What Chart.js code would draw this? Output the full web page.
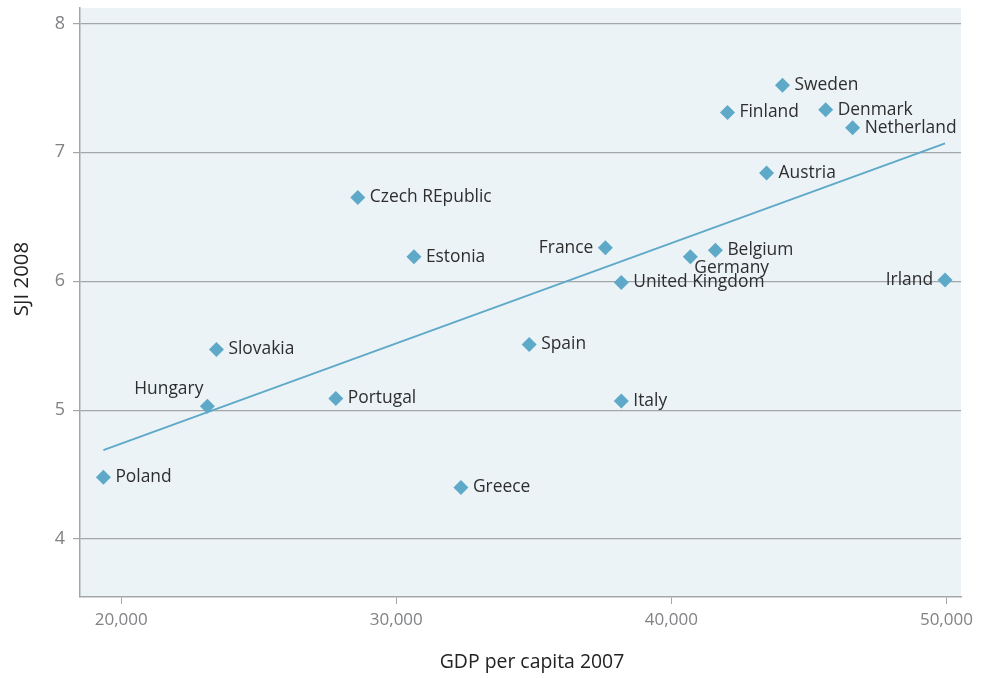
<!DOCTYPE html>
<html>
<head>
<meta charset="utf-8">
<script src="https://cdn.jsdelivr.net/npm/chart.js@4.4.1/dist/chart.umd.min.js"></script>
<style>
  html, body { margin: 0; padding: 0; background: #fff; }
  #wrap { width: 987px; height: 678px; }
</style>
</head>
<body>
<div id="wrap"><canvas id="myChart" width="987" height="678"></canvas></div>
<script>
// countries with GDP per capita 2007 and SJI 2008
const countries = ['Poland', 'Hungary', 'Slovakia', 'Portugal', 'Czech REpublic', 'Estonia', 'Greece',
    'Spain', 'France', 'United Kingdom', 'Italy', 'Germany', 'Belgium', 'Finland', 'Austria',
    'Sweden', 'Denmark', 'Netherland', 'Irland'];
const gdp = [19350, 23130, 23460, 27800, 28600, 30640, 32350,
    34830, 37600, 38180, 38180, 40690, 41600, 42040, 43460,
    44040, 45610, 46590, 49950];
const sji = [4.48, 5.03, 5.47, 5.09, 6.65, 6.19, 4.40,
    5.51, 6.26, 5.99, 5.07, 6.19, 6.24, 7.31, 6.84,
    7.52, 7.33, 7.19, 6.01];

// trend line end points
const trendX = [19350, 49950];
const trendY = [4.69, 7.07];

const xTicks = [20000, 30000, 40000, 50000];
const yTicks = [4, 5, 6, 7, 8];

const xTitle = 'GDP per capita 2007';
const yTitle = 'SJI 2008';

// where the label sits relative to its marker
const labelSide = { 'Hungary': 'aboveLeft', 'France': 'left', 'Irland': 'left', 'Germany': 'belowRight' };

const blue = '#5ea8c8';
const gridGrey = '#a3a7aa';
const font = '"Open Sans", "Noto Sans", sans-serif';

const plotBg = {
    id: 'plotBg',
    beforeDraw(chart) {
        const { ctx, chartArea: a } = chart;
        ctx.save();
        ctx.fillStyle = '#ebf3f7';
        ctx.fillRect(a.left, a.top, a.right - a.left, a.bottom - a.top);
        ctx.restore();
    }
};

// axis titles sit a little off centre in the original, so draw them by hand
const axisTitles = {
    id: 'axisTitles',
    afterDraw(chart) {
        const { ctx } = chart;
        ctx.save();
        ctx.fillStyle = '#222';
        ctx.textAlign = 'center';
        ctx.textBaseline = 'middle';
        ctx.font = '19.4px ' + font;
        ctx.fillText(xTitle, 532, 662);
        ctx.translate(22, 279);
        ctx.rotate(-Math.PI / 2);
        ctx.font = '20.4px ' + font;
        ctx.fillText(yTitle, 0, 0);
        ctx.restore();
    }
};

const pointLabels = {
    id: 'pointLabels',
    afterDatasetsDraw(chart) {
        const { ctx } = chart;
        const meta = chart.getDatasetMeta(0);
        ctx.save();
        ctx.font = '17.4px ' + font;
        ctx.fillStyle = '#2e2e2e';
        ctx.textBaseline = 'middle';
        meta.data.forEach((pt, i) => {
            const name = countries[i];
            const side = labelSide[name] || 'right';
            let x = pt.x, y = pt.y;
            if (side === 'right') { ctx.textAlign = 'left'; x += 12; }
            else if (side === 'left') { ctx.textAlign = 'right'; x -= 12; }
            else if (side === 'aboveLeft') { ctx.textAlign = 'right'; x -= 4; y -= 17; }
            else if (side === 'belowRight') { ctx.textAlign = 'left'; x += 4; y += 11; }
            ctx.fillText(name, x, y);
        });
        ctx.restore();
    }
};

const chartContext = document.getElementById('myChart').getContext('2d');

const chart = new Chart(chartContext, {
    type: 'scatter',
    data: {
        datasets: [{
            label: 'Countries',
            data: gdp.map((g, i) => ({ x: g, y: sji[i] })),
            backgroundColor: blue,
            borderColor: blue,
            pointStyle: 'rectRot',
            pointRadius: 7.5,
            pointHoverRadius: 7.5,
            borderWidth: 0,
            order: 1
        }, {
            label: 'Trend',
            type: 'line',
            data: trendX.map((x, i) => ({ x: x, y: trendY[i] })),
            borderColor: blue,
            borderWidth: 1.8,
            pointRadius: 0,
            fill: false,
            order: 2
        }]
    },
    options: {
        responsive: false,
        animation: false,
        layout: { padding: { left: 0, right: 26, top: 8, bottom: 4 } },
        plugins: {
            legend: { display: false },
            tooltip: { enabled: false }
        },
        scales: {
            x: {
                type: 'linear',
                min: 18500,
                max: 50530,
                afterBuildTicks: (axis) => { axis.ticks = xTicks.map(v => ({ value: v })); },
                afterFit: (axis) => { axis.height = 77; axis.paddingLeft = 0; axis.paddingRight = 0; },
                ticks: {
                    color: '#808285',
                    font: { family: font, size: 17 },
                    padding: 6,
                    maxRotation: 0,
                    callback: (v) => v.toLocaleString('en-US')
                },
                grid: { drawOnChartArea: false, drawTicks: true, tickLength: 7, color: gridGrey },
                border: { color: gridGrey, width: 1.5 }
            },
            y: {
                min: 3.55,
                max: 8.12,
                afterBuildTicks: (axis) => { axis.ticks = yTicks.map(v => ({ value: v })); },
                afterFit: (axis) => { axis.width = 80; axis.paddingTop = 0; axis.paddingBottom = 0; },
                ticks: {
                    color: '#808285',
                    font: { family: font, size: 18 },
                    padding: 8
                },
                grid: { color: gridGrey, lineWidth: 1.2, tickLength: 7 },
                border: { color: gridGrey, width: 1.5 }
            }
        }
    },
    plugins: [plotBg, pointLabels, axisTitles]
});
</script>
</body>
</html>
